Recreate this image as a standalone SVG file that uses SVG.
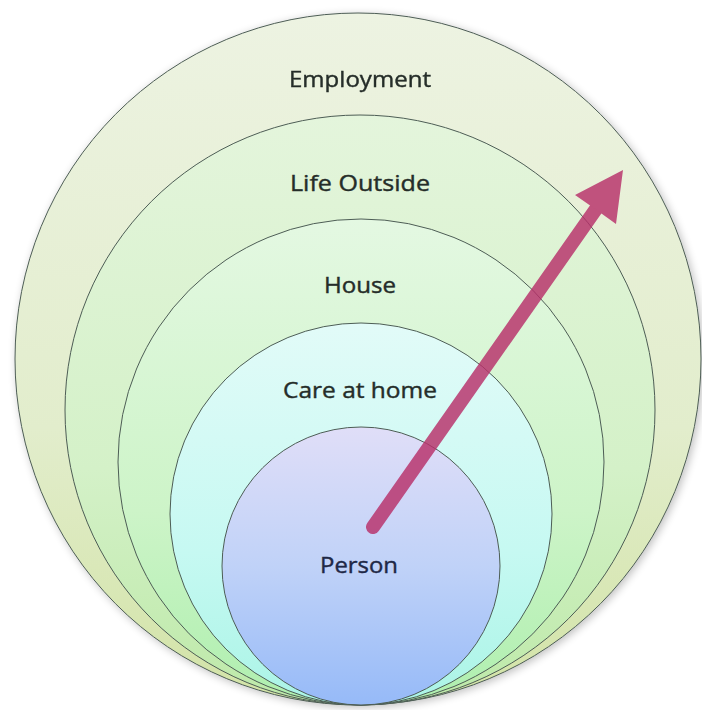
<svg xmlns="http://www.w3.org/2000/svg" width="702" height="710" viewBox="0 0 702 710">
  <defs>
    <linearGradient id="gEmp" x1="0" y1="0" x2="0" y2="1">
      <stop offset="0" stop-color="#edf3e2"/>
      <stop offset="0.6" stop-color="#e2edcc"/>
      <stop offset="1" stop-color="#d2e3a6"/>
    </linearGradient>
    <linearGradient id="gLife" x1="0" y1="0" x2="0" y2="1">
      <stop offset="0" stop-color="#e4f5dc"/>
      <stop offset="0.6" stop-color="#d4f1c8"/>
      <stop offset="1" stop-color="#bde9a8"/>
    </linearGradient>
    <linearGradient id="gHouse" x1="0" y1="0" x2="0" y2="1">
      <stop offset="0" stop-color="#e4f8e2"/>
      <stop offset="0.6" stop-color="#cdf4c8"/>
      <stop offset="1" stop-color="#aeefae"/>
    </linearGradient>
    <linearGradient id="gCare" x1="0" y1="0" x2="0" y2="1">
      <stop offset="0" stop-color="#e2fbf8"/>
      <stop offset="0.6" stop-color="#c6f9f2"/>
      <stop offset="1" stop-color="#aaf4e6"/>
    </linearGradient>
    <linearGradient id="gPerson" x1="0" y1="0" x2="0" y2="1">
      <stop offset="0" stop-color="#e0def8"/>
      <stop offset="0.5" stop-color="#c0d2f8"/>
      <stop offset="1" stop-color="#96baf8"/>
    </linearGradient>
    <filter id="shadow" x="-10%" y="-10%" width="120%" height="120%">
      <feGaussianBlur in="SourceAlpha" stdDeviation="4"/>
      <feOffset dx="2" dy="2" result="b"/>
      <feComponentTransfer><feFuncA type="linear" slope="0.25"/></feComponentTransfer>
      <feMerge><feMergeNode/><feMergeNode in="SourceGraphic"/></feMerge>
    </filter>
    <style>
      .ring { stroke: #4d5d55; stroke-width: 1; }
      .lbl { font-family: "Open Sans", "Liberation Sans", sans-serif; font-size: 22px; fill: #252d29; stroke: #252d29; stroke-width: 0.4; text-anchor: middle; }
      .dark { fill: #1e2846; stroke: #1e2846; }
    </style>
  </defs>
  <rect width="702" height="710" fill="#ffffff"/>

  <g id="employment" filter="url(#shadow)">
    <ellipse class="ring" cx="358" cy="359" rx="343" ry="346" fill="url(#gEmp)"/>
    <text class="lbl" x="360" y="87" textLength="142" lengthAdjust="spacingAndGlyphs">Employment</text>
  </g>
  <g id="life-outside">
    <circle class="ring" cx="360" cy="410" r="295" fill="url(#gLife)"/>
    <text class="lbl" x="360" y="191" textLength="140" lengthAdjust="spacingAndGlyphs">Life Outside</text>
  </g>
  <g id="house">
    <circle class="ring" cx="361" cy="462" r="243" fill="url(#gHouse)"/>
    <text class="lbl" x="360" y="293" textLength="72" lengthAdjust="spacingAndGlyphs">House</text>
  </g>
  <g id="care-at-home">
    <circle class="ring" cx="361" cy="514" r="191" fill="url(#gCare)"/>
    <text class="lbl" x="360" y="398" textLength="154" lengthAdjust="spacingAndGlyphs">Care at home</text>
  </g>
  <g id="person">
    <circle class="ring" cx="361" cy="566" r="139" fill="url(#gPerson)"/>
    <text class="lbl dark" x="359" y="573" textLength="78" lengthAdjust="spacingAndGlyphs">Person</text>
  </g>

  <g id="connectors" opacity="0.82">
    <line x1="373" y1="527" x2="596" y2="209" stroke="#b8306a" stroke-width="14" stroke-linecap="round"/>
    <polygon points="623,170 616,224 595.5,209.3 575,195" fill="#b8306a"/>
  </g>
</svg>
